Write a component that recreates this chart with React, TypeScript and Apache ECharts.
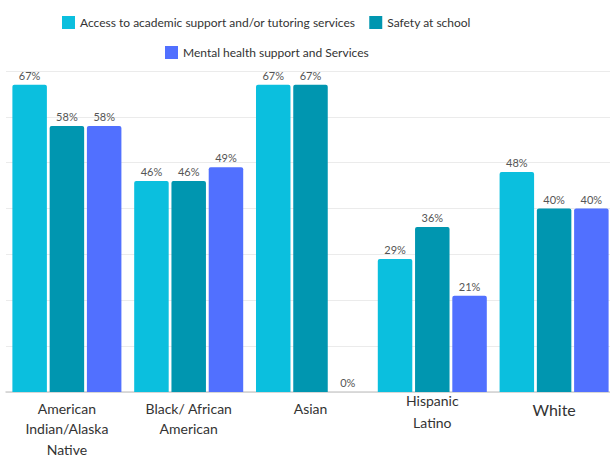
import React, { useEffect, useRef } from "react";
import * as echarts from "echarts";

const categories = ["American\nIndian/Alaska\nNative", "Black/ African\nAmerican", "Asian", "Hispanic\nLatino", "White"];
const seriesNames = [
  "Access to academic support and/or tutoring services",
  "Safety at school",
  "Mental health support and Services",
];
const academicSupport = [67, 46, 67, 29, 48];
const safetyAtSchool = [58, 46, 67, 36, 40];
const mentalHealth = [58, 49, 0, 21, 40];
const colors = ["#0BBFDE", "#0096B0", "#5170FF"];

const FONT = "Lato";

export default function App() {
  const ref = useRef<HTMLDivElement>(null);
  useEffect(() => {
    if (!ref.current) return;
    const chart = echarts.init(ref.current, undefined, { renderer: "svg" });
    const values = [academicSupport, safetyAtSchool, mentalHealth];
    chart.setOption({
      animation: false,
      textStyle: { fontFamily: FONT },
      legend: [
        {
          data: [seriesNames[0], seriesNames[1]],
          left: 57,
          top: 11,
          itemWidth: 13,
          itemHeight: 13,
          itemGap: 14,
          icon: "rect",
          textStyle: { fontSize: 12, color: "#333", fontFamily: FONT },
        },
        {
          data: [seriesNames[2]],
          left: 160,
          top: 41,
          itemWidth: 13,
          itemHeight: 13,
          icon: "rect",
          textStyle: { fontSize: 12, color: "#333", fontFamily: FONT },
        },
      ],
      grid: { left: 6, width: 609, top: 71, bottom: 66, containLabel: false, outerBoundsMode: "none" },
      xAxis: {
        type: "category",
        data: categories,
        axisTick: { show: false },
        axisLine: { lineStyle: { color: "#D0D0D0", width: 1.5 } },
        axisLabel: {
          margin: 6,
          interval: 0,
          color: "#333",
          fontSize: 14,
          lineHeight: 20.5,
          fontFamily: FONT,
          formatter: (v: string) => {
            if (v === "White") return "{w|White}";
            if (v.startsWith("Hispanic")) {
              const parts = v.split("\n");
              return "{s|" + parts[0] + "}\n{n|" + parts[1] + "}";
            }
            return v;
          },
          rich: {
            w: { fontSize: 16, lineHeight: 22, color: "#333", fontFamily: FONT },
            s: { fontSize: 14, lineHeight: 4, color: "#333", fontFamily: FONT },
            n: { fontSize: 14, lineHeight: 40, color: "#333", fontFamily: FONT },
          },
        },
      },
      yAxis: {
        type: "value",
        min: 0,
        max: 70,
        interval: 10,
        axisLabel: { show: false },
        axisLine: { show: false },
        axisTick: { show: false },
        splitLine: { lineStyle: { color: "#EBEBEB", width: 1 } },
      },
      series: seriesNames.map((name, i) => ({
        name,
        type: "bar",
        data: values[i],
        barGap: "8%",
        barCategoryGap: "10.5%",
        itemStyle: { color: colors[i], borderRadius: [2, 2, 0, 0] },
        label: {
          show: true,
          position: "top",
          distance: 4,
          formatter: "{c}%",
          fontSize: 11,
          color: "#555",
          fontFamily: FONT,
        },
      })),
      color: colors,
    });
    return () => chart.dispose();
  }, []);
  return <div ref={ref} style={{ width: 610, height: 458, position: "absolute", left: 0, top: 0 }} />;
}
